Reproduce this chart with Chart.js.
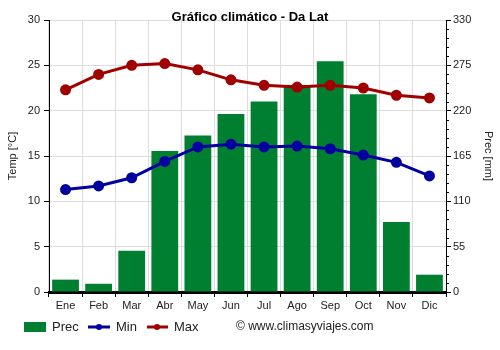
<!DOCTYPE html>
<html>
<head>
<meta charset="utf-8">
<script src="https://cdn.jsdelivr.net/npm/chart.js@4/dist/chart.umd.min.js"></script>
<style>
    body { margin: 0; background: #fff; }
    #wrap { position: relative; width: 500px; height: 350px; }
</style>
</head>
<body>
<div id="wrap"><canvas id="climateChart" width="500" height="350"></canvas></div>
<script>
// Climate data - Da Lat
const months = ['Ene', 'Feb', 'Mar', 'Abr', 'May', 'Jun', 'Jul', 'Ago', 'Sep', 'Oct', 'Nov', 'Dic'];
const precMm = [15, 10, 50, 171, 190, 216, 231, 251, 280, 240, 85, 21];
const tempMin = [11.3, 11.7, 12.6, 14.4, 16.0, 16.3, 16.0, 16.1, 15.8, 15.1, 14.3, 12.8];
const tempMax = [22.3, 24.0, 25.0, 25.2, 24.5, 23.4, 22.8, 22.6, 22.8, 22.5, 21.7, 21.4];
const tempTicks = [0, 5, 10, 15, 20, 25, 30];
const precTicks = [0, 55, 110, 165, 220, 275, 330];

const FONT = 'Arial, "Liberation Sans", sans-serif';
const GREEN = '#007f30';
const BLUE = '#0000a0';
const RED = '#a00000';

// Minor ticks on the precipitation axis, plus title and legend
const extrasPlugin = {
    id: 'extras',
    afterDraw(chart) {
        const ctx = chart.ctx;
        const y1 = chart.scales.y1;
        const area = chart.chartArea;

        ctx.save();
        ctx.strokeStyle = '#000';
        ctx.lineWidth = 1;
        for (let v = 0; v <= precTicks[precTicks.length - 1]; v += 11) {
            if (v % 55 === 0) continue;
            const py = Math.round(y1.getPixelForValue(v)) + 0.5;
            ctx.beginPath();
            ctx.moveTo(area.right, py);
            ctx.lineTo(area.right + 3, py);
            ctx.stroke();
        }

        // Title
        ctx.fillStyle = '#000';
        ctx.font = 'bold 13px ' + FONT;
        ctx.textAlign = 'center';
        ctx.textBaseline = 'middle';
        ctx.fillText('Gráfico climático - Da Lat', 250, 17);

        // Legend
        const ly = 327;
        ctx.font = '13px ' + FONT;
        ctx.textAlign = 'left';
        ctx.fillStyle = GREEN;
        ctx.fillRect(24, ly - 5, 22, 10);
        ctx.fillStyle = '#222';
        ctx.fillText('Prec', 52, ly);

        ctx.strokeStyle = BLUE;
        ctx.lineWidth = 3;
        ctx.beginPath(); ctx.moveTo(88, ly); ctx.lineTo(110, ly); ctx.stroke();
        ctx.fillStyle = BLUE;
        ctx.beginPath(); ctx.arc(99, ly, 3, 0, Math.PI * 2); ctx.fill();
        ctx.fillStyle = '#222';
        ctx.fillText('Min', 116, ly);

        ctx.strokeStyle = RED;
        ctx.beginPath(); ctx.moveTo(147, ly); ctx.lineTo(168, ly); ctx.stroke();
        ctx.fillStyle = RED;
        ctx.beginPath(); ctx.arc(157, ly, 3, 0, Math.PI * 2); ctx.fill();
        ctx.fillStyle = '#222';
        ctx.fillText('Max', 174, ly);

        ctx.font = '12px ' + FONT;
        ctx.fillText('© www.climasyviajes.com', 236, ly);
        ctx.restore();
    }
};

const ctx = document.getElementById('climateChart').getContext('2d');

new Chart(ctx, {
    data: {
        labels: months,
        datasets: [
            {
                type: 'line',
                label: 'Max',
                data: tempMax,
                yAxisID: 'y',
                borderColor: RED,
                backgroundColor: RED,
                borderWidth: 3,
                pointRadius: 4,
                pointHoverRadius: 4,
                tension: 0,
                order: 1
            },
            {
                type: 'line',
                label: 'Min',
                data: tempMin,
                yAxisID: 'y',
                borderColor: BLUE,
                backgroundColor: BLUE,
                borderWidth: 3,
                pointRadius: 4,
                pointHoverRadius: 4,
                tension: 0,
                order: 2
            },
            {
                type: 'bar',
                label: 'Prec',
                data: precMm,
                yAxisID: 'y1',
                backgroundColor: GREEN,
                barPercentage: 0.81,
                categoryPercentage: 1,
                order: 3
            }
        ]
    },
    options: {
        responsive: false,
        animation: false,
        events: [],
        layout: { padding: { top: 20, left: 0, right: 0, bottom: 0 } },
        plugins: {
            legend: { display: false },
            title: { display: false },
            tooltip: { enabled: false }
        },
        scales: {
            x: {
                offset: true,
                grid: { color: '#dddddd', tickColor: '#000', tickLength: 5, offset: true },
                border: { color: '#000', width: 3 },
                ticks: { color: '#222', font: { family: FONT, size: 11 }, padding: 2, maxRotation: 0 },
                afterFit: function(scale) { scale.width = scale.width; scale.height = 58; }
            },
            y: {
                position: 'left',
                min: 0,
                max: 30,
                afterBuildTicks: function(scale) { scale.ticks = tempTicks.map(v => ({ value: v })); },
                grid: { color: '#dddddd', tickColor: '#000', tickLength: 5 },
                border: { color: '#000', width: 1 },
                ticks: { color: '#222', font: { family: FONT, size: 11 }, padding: 4 },
                title: { display: true, text: 'Temp [°C]', color: '#222', font: { family: FONT, size: 11 }, padding: { top: 6, bottom: 0 } },
                afterFit: function(scale) { scale.width = 49; }
            },
            y1: {
                position: 'right',
                min: 0,
                max: 330,
                afterBuildTicks: function(scale) { scale.ticks = precTicks.map(v => ({ value: v })); },
                grid: { drawOnChartArea: false, tickColor: '#000', tickLength: 5 },
                border: { color: '#000', width: 1 },
                ticks: { color: '#222', font: { family: FONT, size: 11 }, padding: 2 },
                title: { display: true, text: 'Prec [mm]', color: '#222', font: { family: FONT, size: 11 }, padding: { top: 5, bottom: 0 } },
                afterFit: function(scale) { scale.width = 54; }
            }
        }
    },
    plugins: [extrasPlugin]
});
</script>
</body>
</html>
